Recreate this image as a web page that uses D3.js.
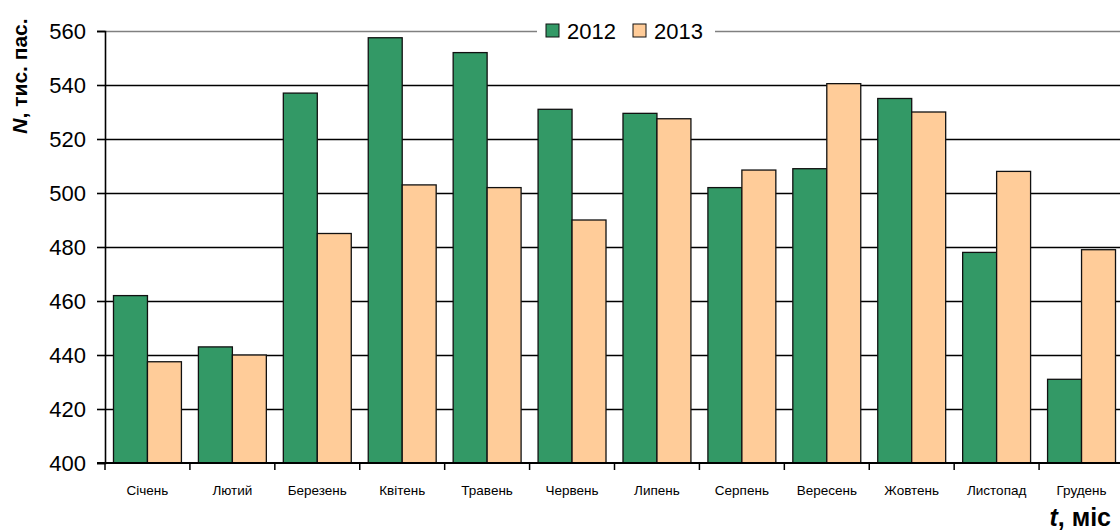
<!DOCTYPE html>
<html><head><meta charset="utf-8">
<script src="https://cdn.jsdelivr.net/npm/d3@7"></script>
<style>body{margin:0;background:#fff}svg{display:block;font-family:"Liberation Sans",Arial,sans-serif}</style>
</head><body><svg id="c" width="1120" height="530"></svg>
<script>
const months = ["Січень","Лютий","Березень","Квітень","Травень","Червень","Липень","Серпень","Вересень","Жовтень","Листопад","Грудень"];
const series = ["2012","2013"];
const values2012 = [462,443,537,557.5,552,531,529.5,502,509,535,478,431];
const values2013 = [437.5,440,485,503,502,490,527.5,508.5,540.5,530,508,479];
const yTicks = [400,420,440,460,480,500,520,540,560];
const colors = {"2012":"#339966","2013":"#FFCC99"};

const svg = d3.select("#c");
const L = 105, R = 1124, T = 31, B = 463;
const x = d3.scaleBand().domain(months).range([L,R]).padding(0);
const xs = d3.scaleBand().domain(series).range([x.bandwidth()*0.1, x.bandwidth()*0.9]).padding(0);
const y = d3.scaleLinear().domain([400,560]).range([B,T]);

// gridlines
svg.append("g").selectAll("line").data(yTicks.filter(v=>v>400 && v<560)).join("line")
  .attr("x1",L).attr("x2",R).attr("y1",d=>Math.round(y(d))+0.5).attr("y2",d=>Math.round(y(d))+0.5)
  .attr("stroke","#000").attr("stroke-width",1.6);
// top border
svg.append("line").attr("x1",L).attr("x2",R).attr("y1",Math.round(y(560))+0.5).attr("y2",Math.round(y(560))+0.5)
  .attr("stroke","#808080").attr("stroke-width",1.6);

// bars
const data = months.map((m,i)=>({m, v:[{s:"2012",v:values2012[i]},{s:"2013",v:values2013[i]}]}));
svg.append("g").selectAll("g").data(data).join("g")
  .attr("transform",d=>`translate(${x(d.m)},0)`)
  .selectAll("rect").data(d=>d.v).join("rect")
  .attr("x",d=>xs(d.s)).attr("width",xs.bandwidth())
  .attr("y",d=>y(d.v)).attr("height",d=>y(400)-y(d.v))
  .attr("fill",d=>colors[d.s]).attr("stroke","#111").attr("stroke-width",1.3);

// y axis
const ya = svg.append("g").attr("transform",`translate(${L},0)`)
  .call(d3.axisLeft(y).tickValues(yTicks).tickSize(8).tickPadding(11).tickFormat(d3.format("d")));
ya.select(".domain").attr("stroke","#000").attr("stroke-width",1.6);
ya.selectAll(".tick line").attr("stroke","#000").attr("stroke-width",1.6);
ya.selectAll(".tick text").attr("font-size",22).attr("fill","#000").attr("font-family","Liberation Sans, Arial").attr("dy","0.36em");

// x axis
const xa = svg.append("g").attr("transform",`translate(0,${B})`)
  .call(d3.axisBottom(x).tickSize(0).tickPadding(22));
xa.select(".domain").remove();
xa.selectAll(".tick text").attr("font-size",13.5).attr("fill","#000").attr("font-family","Liberation Sans, Arial");
svg.append("line").attr("x1",L-8).attr("x2",1120).attr("y1",B).attr("y2",B).attr("stroke","#000").attr("stroke-width",2);
svg.append("g").selectAll("line").data(months).join("line")
  .attr("x1",d=>x(d)).attr("x2",d=>x(d)).attr("y1",B).attr("y2",B+7)
  .attr("stroke","#000").attr("stroke-width",1.5);

// legend
const lg = svg.append("g");
lg.append("rect").attr("x",537).attr("y",18).attr("width",178).attr("height",26).attr("fill","#fff");
const li = lg.selectAll("g").data(series).join("g")
  .attr("transform",(d,i)=>`translate(${546+i*87},24)`);
li.append("rect").attr("width",13).attr("height",13).attr("fill",d=>colors[d]).attr("stroke","#111").attr("stroke-width",1);
li.append("text").attr("x",21).attr("y",14.5).attr("font-size",22).attr("fill","#000").text(d=>d);

// axis titles
const yt = svg.append("text").attr("transform","translate(27,76) rotate(-90)")
  .attr("text-anchor","middle").attr("font-size",21).attr("font-weight","bold").attr("fill","#000");
yt.append("tspan").attr("font-style","italic").text("N");
yt.append("tspan").text(", тис. пас.");
const xt = svg.append("text").attr("x",1111).attr("y",526).attr("text-anchor","end")
  .attr("font-size",25).attr("font-weight","bold").attr("fill","#000");
xt.append("tspan").attr("font-style","italic").text("t");
xt.append("tspan").text(", міс");
</script></body></html>
